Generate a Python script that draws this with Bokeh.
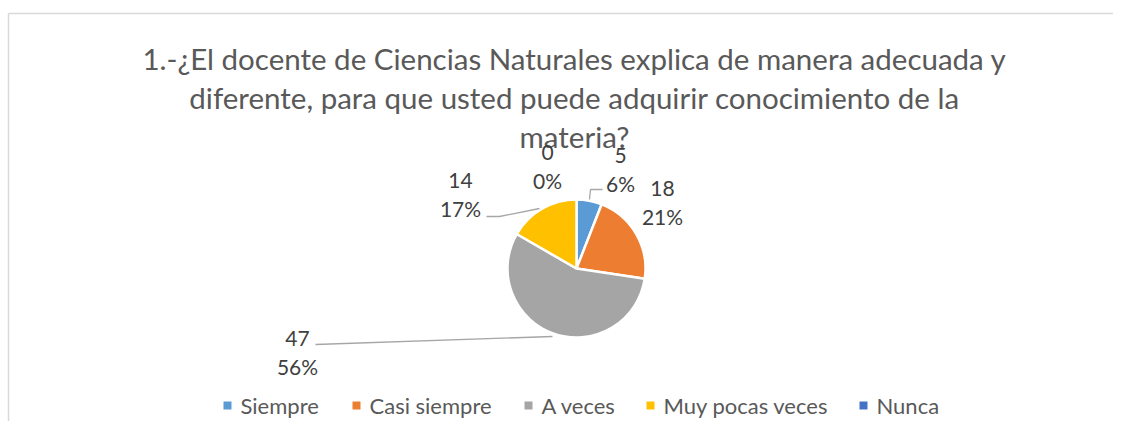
import numpy as np
from bokeh.plotting import figure
from bokeh.models import Range1d
from bokeh.core.properties import value
from bokeh.embed import file_html
from bokeh.resources import INLINE

# ---- data ----
categories = ["Siempre", "Casi siempre", "A veces", "Muy pocas veces", "Nunca"]
counts = [5, 18, 47, 14, 0]
colors = ["#5B9BD5", "#ED7D31", "#A5A5A5", "#FFC000", "#4472C4"]
title_lines = [
    "1.-¿El docente de Ciencias Naturales explica de manera adecuada y",
    "diferente, para que usted puede adquirir conocimiento de la",
    "materia?",
]

# ---- layout (image pixel coordinates) ----
W, H = 1113, 421
FONT = "Lato"


def X(px):
    return px


def Y(py):
    return H - py


pie_cx, pie_cy, pie_r = 576, 268, 69
# data label anchors (number line centre), percent line is below
label_pos = [(620, 155), (662, 188), (297, 338), (460, 180), (547, 152)]
label_gap = 28
leaders = [
    [(589, 199), (590, 189), (602, 189)],
    None,
    [(552, 336), (315, 344)],
    [(539, 208), (499, 216), (486, 216)],
    None,
]
legend_sq_x = [227, 356, 528, 650, 863]
legend_y = 405
title_baselines = [58, 97, 136]

p = figure(width=W, height=H, output_backend="svg", toolbar_location=None,
           x_range=Range1d(0, W), y_range=Range1d(0, H),
           min_border=0, min_border_left=0, min_border_right=0,
           min_border_top=0, min_border_bottom=0)
p.axis.visible = False
p.grid.visible = False
p.outline_line_color = None
p.background_fill_color = "white"
p.border_fill_color = "white"

# chart-area border (top and left)
p.segment(x0=[X(8), X(8)], y0=[Y(13), Y(13)], x1=[X(1128), X(8)], y1=[Y(13), Y(437)],
          line_color="#D9D9D9", line_width=1.5)

# title
for t, b in zip(title_lines, title_baselines):
    p.text(x=[X(574)], y=[Y(b)], text=[t],
           text_font=value(FONT), text_font_size="29.5px", text_color="#595959",
           text_align="center", text_baseline="alphabetic")

# pie
vals = np.array(counts, dtype=float)
total = vals.sum()
frac = vals / total
cum = np.concatenate([[0], np.cumsum(frac)])
starts = np.pi / 2 - cum[:-1] * 2 * np.pi
ends = np.pi / 2 - cum[1:] * 2 * np.pi
nz = vals > 0
p.wedge(x=[X(pie_cx)] * int(nz.sum()), y=[Y(pie_cy)] * int(nz.sum()), radius=pie_r,
        start_angle=list(starts[nz]), end_angle=list(ends[nz]), direction="clock",
        fill_color=[c for c, k in zip(colors, nz) if k], line_color="white", line_width=2.5)

# leader lines
xs, ys = [], []
for ld in leaders:
    if ld:
        xs.append([X(a) for a, b in ld])
        ys.append([Y(b) for a, b in ld])
p.multi_line(xs=xs, ys=ys, line_color="#A6A6A6", line_width=1.3)

# data labels
pcts = [f"{int(round(f * 100))}%" for f in frac]
p.text(x=[X(a) for a, b in label_pos], y=[Y(b) for a, b in label_pos],
       text=[str(c) for c in counts], text_font=value(FONT), text_font_size="21px",
       text_color="#404040", text_align="center", text_baseline="middle")
p.text(x=[X(a) for a, b in label_pos], y=[Y(b + label_gap) for a, b in label_pos],
       text=pcts, text_font=value(FONT), text_font_size="21px",
       text_color="#404040", text_align="center", text_baseline="middle")

# legend
p.scatter(x=[X(a) for a in legend_sq_x], y=[Y(legend_y)] * len(categories), marker="square",
          size=8, fill_color=colors, line_color=None)
p.text(x=[X(a + 13) for a in legend_sq_x], y=[Y(legend_y)] * len(categories), text=categories,
       text_font=value(FONT), text_font_size="22px", text_color="#595959",
       text_align="left", text_baseline="middle")

open("out.html", "w").write(file_html(p, INLINE))
